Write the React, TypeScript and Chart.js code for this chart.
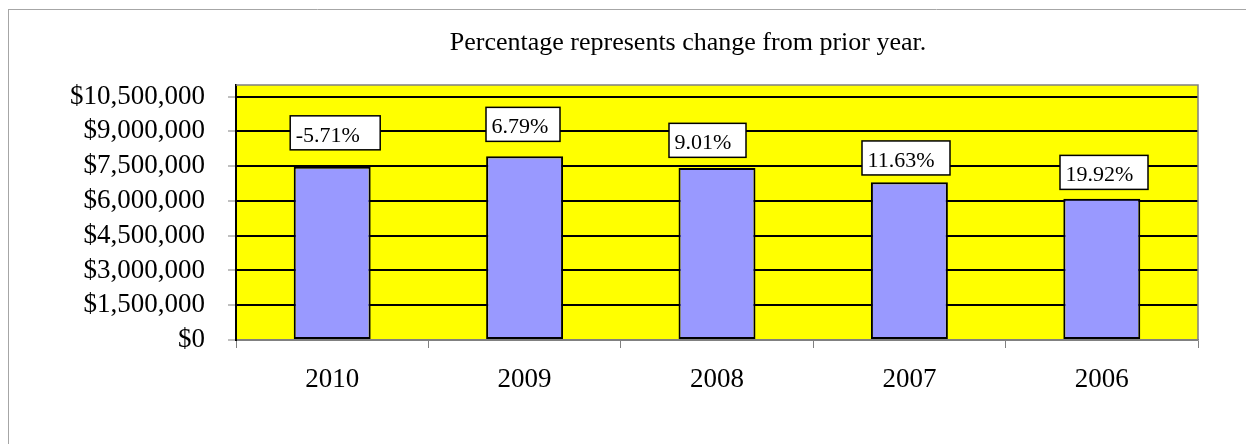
import { useEffect, useRef } from 'react';
import { Chart, registerables } from 'chart.js';

Chart.register(...registerables);

// Fiscal years, newest first
const years = ['2010', '2009', '2008', '2007', '2006'];
// Annual totals in dollars
const totals = [7470000, 7922000, 7418000, 6805000, 6096000];
// Change from the prior year, shown in the boxes above each bar
const changeLabels = ['-5.71%', '6.79%', '9.01%', '11.63%', '19.92%'];
// Value axis tick positions and axis ceiling
const yTicks = [0, 1500000, 3000000, 4500000, 6000000, 7500000, 9000000, 10500000];
const yCeiling = 11000000;

const titleText = 'Percentage represents change from prior year.';

// Placement of each change box relative to its bar (offset from bar centre, gap above bar top, width)
const boxDx = [-42, -38.6, -48, -47.4, -41.8];
const boxGap = [17, 15, 10.7, 7.3, 9.3];
const boxW = [90, 74, 77, 88, 88];
const boxH = 34;

const serif = '"Liberation Serif", "Times New Roman", serif';

export default function App() {
  const canvasRef = useRef<HTMLCanvasElement>(null);

  useEffect(() => {
    const canvas = canvasRef.current;
    if (!canvas) return;

    const framePlugin = {
      id: 'frame',
      beforeDraw(chart: any) {
        const { ctx, chartArea } = chart;
        ctx.save();
        // outer page frame
        ctx.strokeStyle = '#a6a6a6';
        ctx.lineWidth = 1;
        ctx.beginPath();
        ctx.moveTo(8, 9.5);
        ctx.lineTo(1246, 9.5);
        ctx.moveTo(8.5, 9);
        ctx.lineTo(8.5, 444);
        ctx.stroke();
        // plot background
        ctx.fillStyle = '#ffff00';
        ctx.fillRect(chartArea.left, chartArea.top, chartArea.right - chartArea.left, chartArea.bottom - chartArea.top);
        // title
        ctx.fillStyle = '#000';
        ctx.font = `26px ${serif}`;
        ctx.textAlign = 'center';
        ctx.textBaseline = 'alphabetic';
        ctx.fillText(titleText, 688, 50);
        ctx.restore();
      },
      beforeDatasetsDraw(chart: any) {
        const { ctx, chartArea } = chart;
        ctx.save();
        ctx.strokeStyle = '#808080';
        ctx.lineWidth = 1.5;
        ctx.beginPath();
        ctx.moveTo(chartArea.left, chartArea.top);
        ctx.lineTo(chartArea.right, chartArea.top);
        ctx.lineTo(chartArea.right, chartArea.bottom);
        ctx.stroke();
        ctx.restore();
      },
    };

    const changeBoxPlugin = {
      id: 'changeBoxes',
      afterDatasetsDraw(chart: any) {
        const { ctx } = chart;
        const meta = chart.getDatasetMeta(0);
        ctx.save();
        meta.data.forEach((bar: any, i: number) => {
          const left = bar.x + boxDx[i];
          const bottom = bar.y - boxGap[i];
          const top = bottom - boxH;
          ctx.fillStyle = '#ffffff';
          ctx.fillRect(left, top, boxW[i], boxH);
          ctx.strokeStyle = '#000';
          ctx.lineWidth = 1.5;
          ctx.strokeRect(left, top, boxW[i], boxH);
          ctx.fillStyle = '#000';
          ctx.font = `22px ${serif}`;
          ctx.textAlign = 'left';
          ctx.textBaseline = 'alphabetic';
          ctx.fillText(changeLabels[i], left + 5.5, bottom - 8);
        });
        ctx.restore();
      },
    };

    const chart = new Chart(canvas, {
      type: 'bar',
      data: {
        labels: years,
        datasets: [
          {
            data: totals,
            backgroundColor: '#9999ff',
            borderColor: '#000000',
            borderWidth: 2,
            borderSkipped: false,
            barPercentage: 0.5,
            categoryPercentage: 0.8,
          },
        ],
      },
      options: {
        responsive: false,
        animation: false,
        devicePixelRatio: 1,
        layout: { padding: { left: 0, top: 85, right: 48, bottom: 0 } },
        plugins: {
          legend: { display: false },
          title: { display: false },
          tooltip: { enabled: false },
        },
        scales: {
          x: {
            grid: {
              offset: true,
              drawOnChartArea: false,
              drawTicks: true,
              tickLength: 8,
              tickColor: '#808080',
              tickWidth: 1,
            },
            border: { color: '#808080', width: 1.5 },
            ticks: {
              color: '#000',
              font: { family: serif, size: 27 },
              padding: 16,
              maxRotation: 0,
            },
            afterFit: (s: any) => {
              s.height = 104;
            },
          },
          y: {
            min: 0,
            max: yCeiling,
            afterBuildTicks: (s: any) => {
              s.ticks = yTicks.map((v) => ({ value: v }));
            },
            ticks: {
              color: '#000',
              font: { family: serif, size: 27 },
              padding: 23,
              autoSkip: false,
              callback: (v: any) => '$' + Number(v).toLocaleString('en-US'),
            },
            grid: {
              color: (c: any) => (c.tick && c.tick.value === 0 ? '#808080' : '#000000'),
              lineWidth: 2,
              drawTicks: true,
              tickLength: 8,
              tickColor: '#808080',
              tickWidth: 1,
            },
            border: { color: '#000000', width: 2 },
            afterFit: (s: any) => {
              s.width = 236;
            },
          },
        },
      },
      plugins: [framePlugin, changeBoxPlugin],
    });

    return () => chart.destroy();
  }, []);

  return (
    <div style={{ position: 'absolute', left: 0, top: 0, width: 1246, height: 444 }}>
      <canvas ref={canvasRef} width={1246} height={444} style={{ display: 'block' }} />
    </div>
  );
}
